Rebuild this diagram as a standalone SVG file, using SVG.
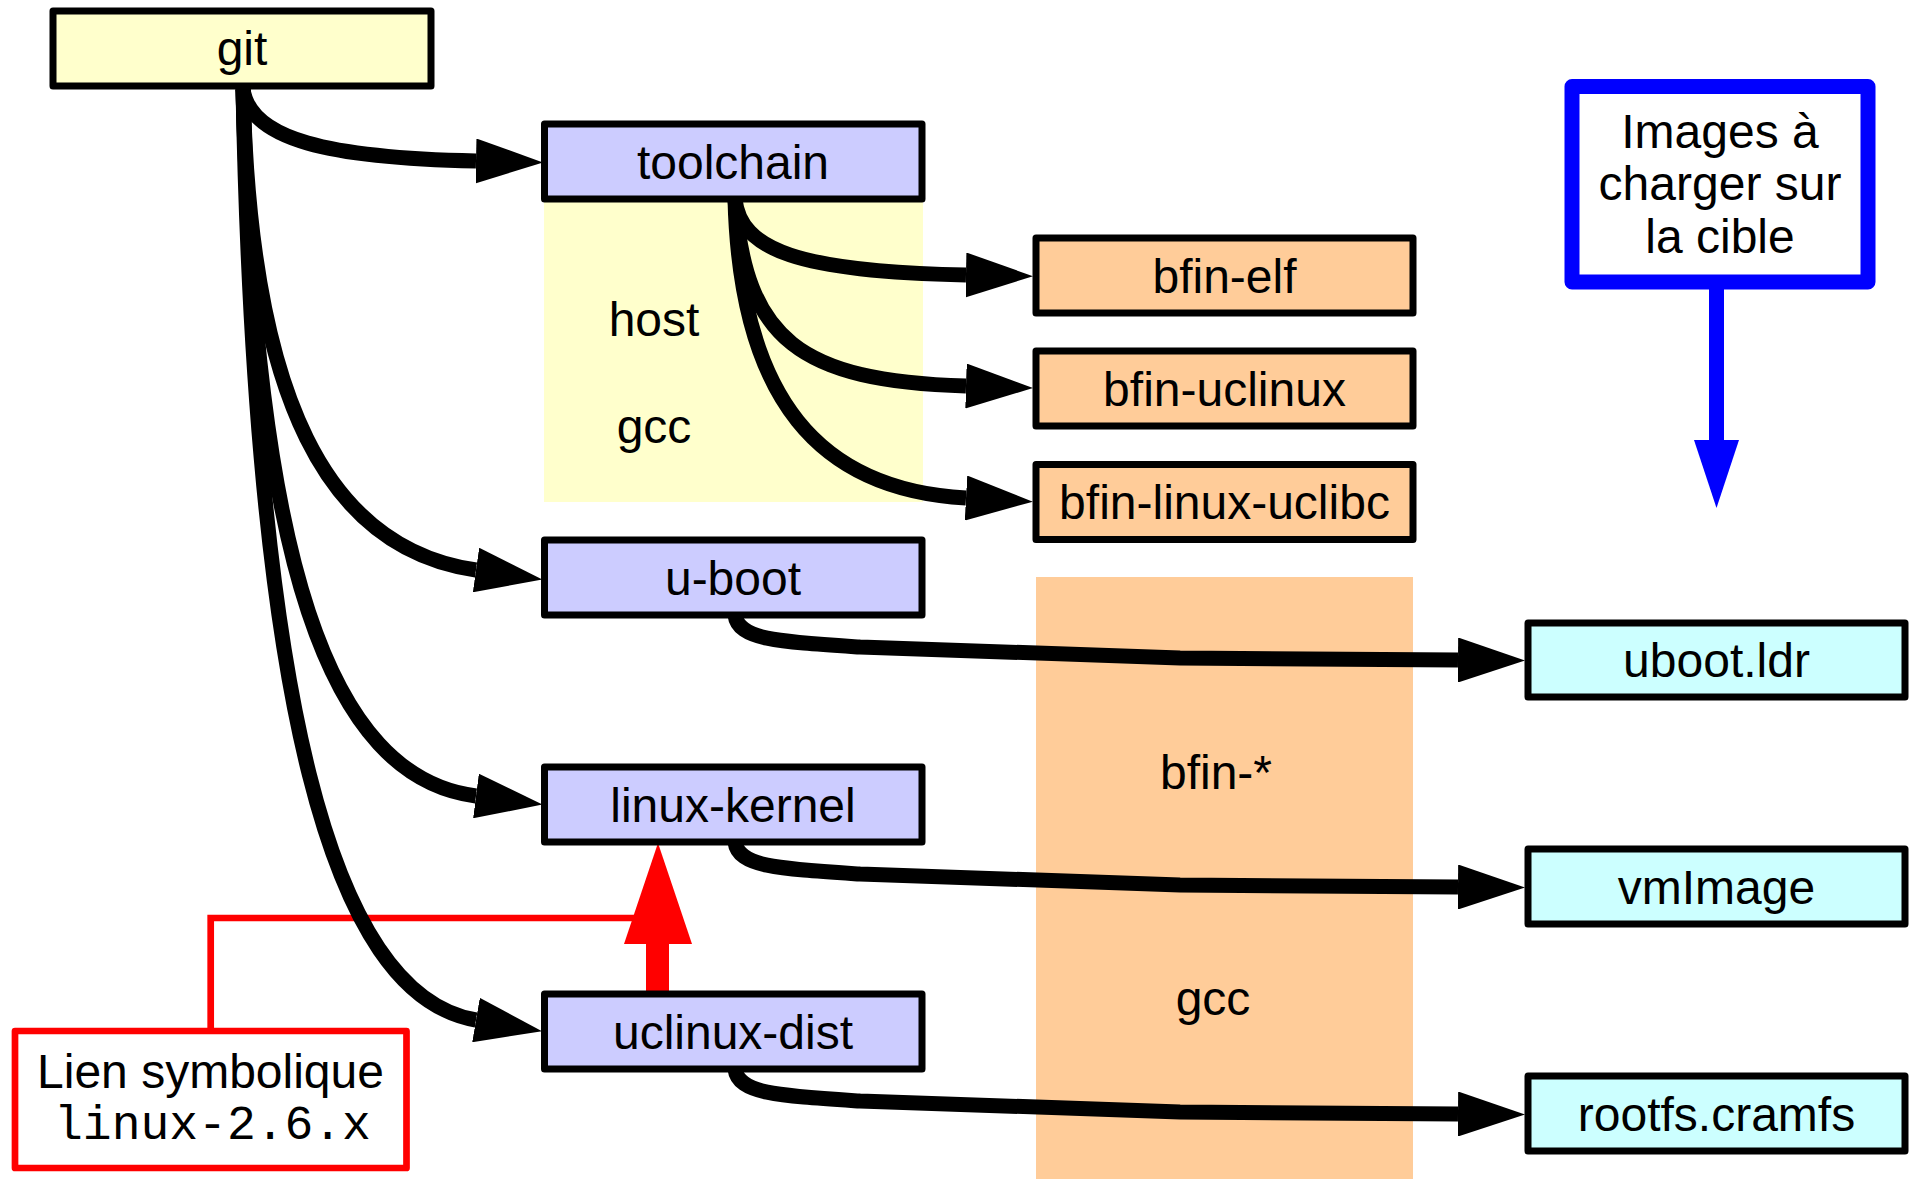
<svg xmlns="http://www.w3.org/2000/svg" width="1912" height="1179" viewBox="0 0 1912 1179">
<style>
.box{stroke:#000;stroke-width:7;stroke-linejoin:round}
.t{font-family:"Liberation Sans",Arial,sans-serif;font-size:48px;text-anchor:middle;fill:#000}
.mono{font-family:"Liberation Mono","Courier New",monospace;font-size:48px;text-anchor:middle;fill:#000}
.c{fill:none;stroke:#000;stroke-width:15;marker-end:url(#ah)}
.y{fill:#ffffcc}.p{fill:#ccccff}.o{fill:#ffcc99}.cy{fill:#ccffff}
</style>
<defs>
<marker id="ah" markerUnits="userSpaceOnUse" markerWidth="67" markerHeight="45" refX="0" refY="22.5" orient="auto" viewBox="0 0 67 45">
<path d="M0,0 L67,22.5 L0,45 z" fill="#000"/>
</marker>
</defs>
<rect width="1912" height="1179" fill="#fff"/>
<g id="bands">
<rect x="544" y="199" width="379" height="303" fill="#ffffcc"/>
<text class="t" x="654" y="336">host</text>
<text class="t" x="654" y="443">gcc</text>
<rect x="1036" y="577" width="377" height="602" fill="#ffcc99"/>
<text class="t" x="1216" y="789">bfin-*</text>
<text class="t" x="1213" y="1015">gcc</text>
</g>
<g id="symlink">
<polyline points="210.7,1031 210.7,918 650,918" fill="none" stroke="#ff0000" stroke-width="6.7"/>
<rect x="646" y="943" width="23" height="51" fill="#ff0000"/>
<polygon points="624,944 692,944 658,843" fill="#ff0000"/>
<rect x="15" y="1031" width="391.5" height="137" fill="#fff" stroke="#ff0000" stroke-width="6.7" stroke-linejoin="round"/>
<text class="t" x="210.5" y="1088">Lien symbolique</text>
<text class="mono" x="212.5" y="1139">linux-2.6.x</text>
</g>
<g id="connectors">
<path class="c" d="M243,89 C250,140 330,158 476,161"/>
<path class="c" d="M243,89 C250,400 328,549 476,570"/>
<path class="c" d="M243,89 C255,560 328,777 476,796"/>
<path class="c" d="M243,89 C255,700 330,995 476,1020"/>
<path class="c" d="M735,199 C740,250 800,272 966,275"/>
<path class="c" d="M735,199 C745,340 800,381 966,386"/>
<path class="c" d="M735,199 C740,400 820,490 966,498"/>
<path class="c" d="M735,615 C738,640 780,642 860,647 L1180,658 L1458,660"/>
<path class="c" d="M735,842 C738,867 780,869 860,874 L1180,885 L1458,887"/>
<path class="c" d="M735,1069 C738,1094 780,1096 860,1101 L1180,1112 L1458,1114"/>
</g>
<g id="git"><rect class="box y" x="53" y="11" width="378" height="75"/><text class="t" x="242" y="65">git</text></g>
<g id="toolchain"><rect class="box p" x="544.5" y="124" width="377.5" height="75"/><text class="t" x="733" y="179">toolchain</text></g>
<g id="u-boot"><rect class="box p" x="544.5" y="540" width="377.5" height="75"/><text class="t" x="733" y="595">u-boot</text></g>
<g id="linux-kernel"><rect class="box p" x="544.5" y="767" width="377.5" height="75"/><text class="t" x="733" y="822">linux-kernel</text></g>
<g id="uclinux-dist"><rect class="box p" x="544.5" y="994" width="377.5" height="75"/><text class="t" x="733" y="1049">uclinux-dist</text></g>
<g id="bfin-elf"><rect class="box o" x="1036" y="238" width="377" height="75"/><text class="t" x="1224.5" y="293">bfin-elf</text></g>
<g id="bfin-uclinux"><rect class="box o" x="1036" y="351" width="377" height="75"/><text class="t" x="1224.5" y="406">bfin-uclinux</text></g>
<g id="bfin-linux-uclibc"><rect class="box o" x="1036" y="464.5" width="377" height="75"/><text class="t" x="1224.5" y="519">bfin-linux-uclibc</text></g>
<g id="uboot.ldr"><rect class="box cy" x="1528" y="623" width="377" height="74"/><text class="t" x="1716.5" y="677">uboot.ldr</text></g>
<g id="vmImage"><rect class="box cy" x="1528" y="849" width="377" height="75"/><text class="t" x="1716.5" y="904">vmImage</text></g>
<g id="rootfs.cramfs"><rect class="box cy" x="1528" y="1076" width="377" height="75"/><text class="t" x="1716.5" y="1131">rootfs.cramfs</text></g>
<g id="images">
<rect x="1572" y="86.5" width="296" height="195.5" fill="#fff" stroke="#0000ff" stroke-width="15" stroke-linejoin="round"/>
<text class="t" x="1720" y="148">Images à</text>
<text class="t" x="1720" y="200">charger sur</text>
<text class="t" x="1720" y="253">la cible</text>
<line x1="1716.5" y1="289" x2="1716.5" y2="441" stroke="#0000ff" stroke-width="15"/>
<polygon points="1694,440 1739,440 1716.5,508" fill="#0000ff"/>
</g>
</svg>
